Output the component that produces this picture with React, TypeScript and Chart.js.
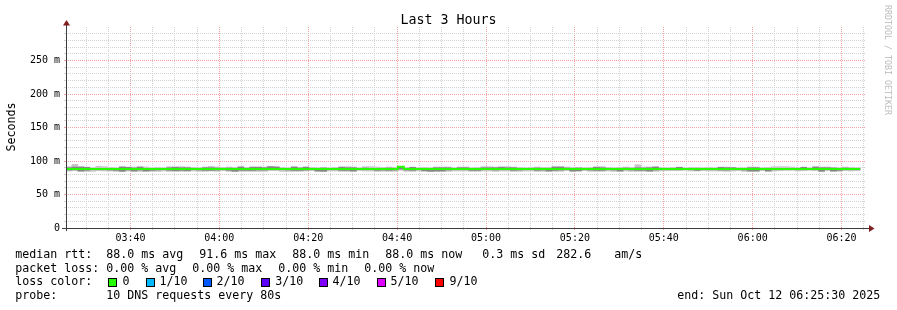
import React, { useEffect, useRef } from "react";
import { Chart, registerables } from "chart.js";

Chart.register(...registerables);

// ---- time frame (seconds) ----
const startClock = "03:25:30";
const stepSeconds = 80;
const spanSeconds = 3 * 3600;

// ---- tick labels ----
const xTickLabels = ["03:40", "04:00", "04:20", "04:40", "05:00", "05:20", "05:40", "06:00", "06:20"];
const yTickLabels = ["0", "50 m", "100 m", "150 m", "200 m", "250 m"];

// ---- series (ms), one value per 80 s step ----
const medianRtt = [
  88.0, 88.0, 88.0, 88.0, 88.0, 88.0, 88.0, 88.0, 88.0, 88.0,
  88.0, 88.0, 88.0, 88.0, 88.0, 88.0, 88.0, 88.0, 88.0, 88.0,
  88.0, 88.0, 88.0, 88.0, 88.0, 88.0, 88.0, 88.0, 88.0, 88.0,
  88.0, 88.0, 88.0, 88.0, 88.0, 88.0, 88.0, 88.0, 88.0, 88.0,
  88.0, 88.0, 88.0, 88.0, 88.0, 88.0, 88.0, 88.0, 88.0, 88.0,
  88.0, 88.0, 88.0, 88.0, 88.0, 88.0, 91.6, 88.0, 88.0, 88.0,
  88.0, 88.0, 88.0, 88.0, 88.0, 88.0, 88.0, 88.0, 88.0, 88.0,
  88.0, 88.0, 88.0, 88.0, 88.0, 88.0, 88.0, 88.0, 88.0, 88.0,
  88.0, 88.0, 88.0, 88.0, 88.0, 88.0, 88.0, 88.0, 88.0, 88.0,
  88.0, 88.0, 88.0, 88.0, 88.0, 88.0, 88.0, 88.0, 88.0, 88.0,
  88.0, 88.0, 88.0, 88.0, 88.0, 88.0, 88.0, 88.0, 88.0, 88.0,
  88.0, 88.0, 88.0, 88.0, 88.0, 88.0, 88.0, 88.0, 88.0, 88.0,
  88.0, 88.0, 88.0, 88.0, 88.0, 88.0, 88.0, 88.0, 88.0, 88.0,
  88.0, 88.0, 88.0, 88.0,
];

const smokeMax = [
  91.5, 95.0, 91.5, 91.0, 90.0, 92.0, 91.5, 90.5, 90.0, 91.5,
  91.0, 91.0, 92.0, 91.0, 90.0, 90.5, 90.0, 91.5, 91.5, 91.5,
  91.0, 90.5, 90.0, 91.0, 92.0, 91.0, 90.5, 91.0, 90.5, 91.5,
  90.5, 91.5, 91.5, 91.0, 92.0, 91.5, 90.5, 90.0, 91.5, 90.5,
  91.5, 90.5, 90.0, 90.5, 90.0, 90.5, 91.5, 91.5, 91.0, 90.0,
  91.5, 91.5, 91.0, 90.5, 91.0, 90.5, 92.0, 90.5, 91.0, 90.0,
  90.5, 90.0, 91.0, 91.0, 91.0, 90.0, 91.0, 91.0, 90.0, 90.5,
  91.5, 91.5, 91.0, 91.5, 91.5, 91.0, 90.5, 90.0, 90.5, 91.0,
  90.5, 90.5, 91.5, 91.5, 91.0, 90.5, 90.5, 90.0, 90.5, 91.5,
  91.5, 90.5, 90.0, 90.5, 91.0, 90.5, 94.5, 91.0, 91.0, 91.5,
  90.5, 90.0, 90.5, 91.0, 90.0, 90.5, 90.5, 90.0, 90.5, 90.0,
  91.0, 91.0, 90.5, 90.0, 90.0, 91.0, 91.0, 90.0, 90.5, 91.5,
  91.5, 91.5, 91.0, 90.0, 91.0, 90.0, 91.5, 91.0, 91.0, 90.5,
  90.0, 91.0, 90.5, 90.0,
];

const smokeUpper = [
  90.0, 91.0, 91.0, 90.5, 89.0, 89.0, 89.0, 89.0, 89.0, 91.0,
  90.5, 89.5, 90.5, 89.0, 89.0, 89.0, 89.0, 90.0, 90.5, 90.0,
  90.0, 89.0, 89.0, 90.0, 90.0, 89.5, 89.0, 89.5, 89.0, 91.0,
  89.0, 90.5, 90.5, 90.0, 91.5, 91.0, 89.0, 89.0, 91.0, 89.5,
  90.5, 89.0, 89.0, 89.5, 89.0, 89.0, 90.5, 90.0, 90.0, 89.0,
  89.5, 89.0, 89.0, 89.0, 89.5, 89.0, 91.6, 89.0, 90.5, 89.0,
  89.0, 89.0, 90.0, 90.0, 90.0, 89.0, 90.0, 90.0, 89.0, 89.0,
  90.0, 90.0, 90.0, 90.5, 90.0, 90.0, 89.0, 89.0, 89.0, 89.5,
  89.0, 89.0, 91.0, 91.0, 89.5, 89.0, 89.5, 89.0, 89.0, 90.5,
  90.0, 89.0, 89.0, 89.0, 89.5, 89.0, 90.0, 89.5, 90.0, 91.0,
  89.0, 89.0, 89.0, 90.5, 89.0, 89.0, 89.0, 89.0, 89.0, 89.0,
  90.5, 90.0, 90.0, 89.0, 89.0, 90.0, 90.0, 89.0, 89.0, 89.0,
  89.0, 89.0, 89.0, 89.0, 90.5, 89.0, 91.0, 90.0, 90.0, 89.5,
  89.0, 89.5, 89.0, 89.0,
];

const smokeLower = [
  86.5, 87.0, 85.0, 86.0, 87.5, 87.0, 87.0, 86.5, 86.0, 84.8,
  86.5, 85.0, 86.5, 85.0, 86.0, 86.5, 87.0, 86.0, 85.5, 86.0,
  85.5, 87.0, 86.5, 86.0, 86.0, 86.5, 87.0, 86.0, 84.8, 86.0,
  86.0, 86.0, 86.5, 86.5, 87.5, 87.5, 87.0, 86.5, 86.0, 86.0,
  86.5, 87.0, 85.0, 84.8, 87.5, 87.0, 86.0, 86.0, 85.0, 87.5,
  87.0, 87.0, 86.0, 86.5, 86.0, 86.5, 88.0, 86.5, 86.0, 87.5,
  85.5, 84.8, 85.0, 85.0, 86.5, 87.5, 87.5, 87.0, 86.0, 86.0,
  87.0, 87.0, 86.5, 87.0, 87.0, 86.0, 86.5, 87.0, 87.5, 86.0,
  86.5, 85.0, 86.0, 86.5, 87.5, 85.0, 85.5, 87.5, 86.5, 86.0,
  86.0, 87.0, 86.5, 85.0, 87.0, 86.5, 86.0, 86.0, 85.0, 86.5,
  87.0, 87.5, 87.5, 87.0, 87.5, 87.0, 86.0, 87.5, 87.0, 87.0,
  86.5, 86.5, 87.0, 87.5, 86.5, 85.0, 85.0, 87.5, 85.0, 87.0,
  87.5, 87.5, 87.5, 87.0, 87.5, 87.5, 87.0, 84.8, 87.0, 85.0,
  86.0, 87.5, 87.0, 87.0,
];

const smokeMin = [
  85.0, 85.5, 84.5, 84.5, 84.5, 85.5, 85.0, 85.0, 84.5, 84.0,
  85.0, 84.5, 84.5, 84.5, 84.5, 84.5, 85.0, 84.5, 84.5, 84.5,
  84.5, 85.0, 84.5, 84.5, 85.0, 84.5, 85.5, 84.5, 84.0, 84.5,
  84.5, 84.5, 84.5, 84.5, 85.5, 85.5, 84.5, 84.5, 84.5, 84.5,
  85.0, 85.5, 84.5, 84.0, 85.0, 85.0, 84.5, 84.5, 84.5, 85.5,
  85.0, 85.0, 84.5, 84.5, 84.5, 84.5, 86.0, 84.5, 84.5, 85.0,
  84.5, 84.0, 84.5, 84.5, 84.5, 85.0, 85.0, 85.0, 84.5, 84.5,
  85.0, 85.0, 84.5, 85.0, 85.0, 84.5, 84.5, 85.0, 85.0, 84.5,
  84.5, 84.5, 84.5, 84.5, 85.5, 84.5, 84.5, 85.5, 84.5, 84.5,
  84.5, 85.0, 84.5, 84.5, 85.0, 84.5, 84.5, 84.5, 84.5, 84.5,
  85.0, 85.5, 85.5, 85.5, 86.0, 85.0, 85.0, 85.5, 85.0, 85.0,
  85.0, 84.5, 85.0, 85.5, 84.5, 84.5, 84.5, 85.5, 84.5, 85.0,
  85.5, 86.0, 86.0, 85.0, 85.5, 86.0, 85.5, 84.0, 85.5, 84.5,
  84.5, 85.5, 85.0, 85.5,
];

// ---- legend texts ----
const titleText = "Last 3 Hours";
const yAxisTitle = "Seconds";
const watermark = "RRDTOOL / TOBI OETIKER";
const rttLabel = "median rtt:";
const rttStats = ["88.0 ms avg", "91.6 ms max", "88.0 ms min", "88.0 ms now", "0.3 ms sd", "282.6", "am/s"];
const lossLabel = "packet loss:";
const lossStats = ["0.00 % avg", "0.00 % max", "0.00 % min", "0.00 % now"];
const lossColorLabel = "loss color:";
const lossColorNames = ["0", "1/10", "2/10", "3/10", "4/10", "5/10", "9/10"];
const lossColors = ["#26ff00", "#00b8ff", "#0059ff", "#5e00ff", "#7e00ff", "#dd00ff", "#ff0000"];
const probeLabel = "probe:";
const probeText = "10 DNS requests every 80s";
const endText = "end: Sun Oct 12 06:25:30 2025";

// ---- layout (pixels) ----
const W = 897;
const H = 310;
const MONO = "'DejaVu Sans Mono', monospace";
const rttX = [106.2, 199.2, 292.2, 385.2, 482.2, 556.2, 614.2];
const lossX = [106.2, 192.2, 278.2, 364.2];
const boxX = [108, 146, 203, 261, 319, 377, 435];
const boxLabelX = [122.4, 159.4, 216.4, 275.2, 332.4, 390.4, 449.4];

const startSec = (() => {
  const [h, m, s] = startClock.split(":").map(Number);
  return h * 3600 + m * 60 + s;
})();

function clockOf(rel: number) {
  const abs = Math.round(startSec + rel);
  const h = Math.floor(abs / 3600) % 24;
  const m = Math.floor((abs % 3600) / 60);
  return String(h).padStart(2, "0") + ":" + String(m).padStart(2, "0");
}

const MINOR = "#d2d2d2";
const MAJOR = "#f2a2a2";

const axisPlugin = {
  id: "rrdAxes",
  afterDatasetsDraw(chart: any) {
    const { ctx, chartArea } = chart;
    const { left, right, top, bottom } = chartArea;
    ctx.save();
    ctx.strokeStyle = "#3c3c3c";
    ctx.lineWidth = 1;
    ctx.beginPath();
    ctx.moveTo(left + 0.5, bottom + 3);
    ctx.lineTo(left + 0.5, top - 2);
    ctx.moveTo(left - 4, bottom + 0.5);
    ctx.lineTo(right + 3, bottom + 0.5);
    ctx.stroke();
    ctx.fillStyle = "rgb(128,31,31)";
    ctx.beginPath();
    ctx.moveTo(left + 0.5 - 3.5, top - 1.5);
    ctx.lineTo(left + 0.5 + 3.5, top - 1.5);
    ctx.lineTo(left + 0.5, top - 7);
    ctx.closePath();
    ctx.fill();
    ctx.beginPath();
    ctx.moveTo(right + 3, bottom + 0.5 - 3.5);
    ctx.lineTo(right + 3, bottom + 0.5 + 3.5);
    ctx.lineTo(right + 8.5, bottom + 0.5);
    ctx.closePath();
    ctx.fill();
    ctx.restore();
  },
};

function App() {
  const ref = useRef<HTMLCanvasElement>(null);

  useEffect(() => {
    document.body.style.margin = "0";
    const canvas = ref.current;
    if (!canvas) return;

    const xs = medianRtt.map((_, i) => i * stepSeconds + stepSeconds / 2);
    const outer = xs.map((x, i) => ({ x, y: [smokeMin[i], smokeMax[i]] }));
    const inner = xs.map((x, i) => ({ x, y: [smokeLower[i], smokeUpper[i]] }));
    const med = [
      { x: 0, y: medianRtt[0] },
      ...xs.map((x, i) => ({ x, y: medianRtt[i] })),
      { x: medianRtt.length * stepSeconds, y: medianRtt[medianRtt.length - 1] },
    ];

    const firstTick = Math.ceil(startSec / 300) * 300 - startSec;
    const xTicks: number[] = [];
    for (let s = firstTick; s <= spanSeconds; s += 300) xTicks.push(s);
    const yTicks: number[] = [];
    for (let v = 0; v <= 300; v += 10) yTicks.push(v);

    const isMajorX = (v: number) => Math.round((startSec + v) / 60) % 20 === 0;

    const font = { family: "DejaVu Sans Mono", size: 10 };

    const chart = new Chart(canvas, {
      type: "bar",
      data: {
        datasets: [
          {
            type: "line",
            data: med,
            borderColor: "#26ff00",
            borderWidth: 2,
            pointRadius: 0,
            stepped: "middle",
            order: 0,
          } as any,
          {
            type: "bar",
            data: inner as any,
            backgroundColor: "#858585",
            borderWidth: 0,
            grouped: false,
            barPercentage: 1,
            categoryPercentage: 1,
            order: 1,
          } as any,
          {
            type: "bar",
            data: outer as any,
            backgroundColor: "#c6c6c6",
            borderWidth: 0,
            grouped: false,
            barPercentage: 1,
            categoryPercentage: 1,
            order: 2,
          } as any,
        ],
      },
      options: {
        responsive: false,
        animation: false,
        devicePixelRatio: 1,
        layout: { padding: { left: 0, top: 27, right: 31, bottom: 0 } },
        plugins: {
          legend: { display: false },
          tooltip: { enabled: false },
          title: { display: false },
        },
        scales: {
          x: {
            type: "linear",
            min: 0,
            max: spanSeconds,
            offset: false,
            afterFit: (s: any) => {
              s.height = H - 228;
            },
            afterBuildTicks: (s: any) => {
              s.ticks = xTicks.map((v) => ({ value: v }));
            },
            ticks: {
              autoSkip: false,
              maxRotation: 0,
              minRotation: 0,
              padding: 2,
              color: "#000",
              font,
              callback: (v: any) => {
                const lbl = clockOf(Number(v));
                return xTickLabels.includes(lbl) && isMajorX(Number(v)) ? lbl : "";
              },
            },
            grid: {
              offset: false,
              color: (c: any) => (c.tick && isMajorX(c.tick.value) ? MAJOR : MINOR),
              lineWidth: 1,
              tickLength: 2,
              tickBorderDash: [],
            },
            border: { display: false, dash: [1, 1] },
          } as any,
          y: {
            type: "linear",
            min: 0,
            max: 300,
            afterFit: (s: any) => {
              s.width = 66;
            },
            afterBuildTicks: (s: any) => {
              s.ticks = yTicks.map((v) => ({ value: v }));
            },
            ticks: {
              autoSkip: false,
              padding: 4,
              color: "#000",
              font,
              callback: (v: any) => {
                const n = Number(v);
                return n % 50 === 0 && n / 50 < yTickLabels.length ? yTickLabels[n / 50] : "";
              },
            },
            grid: {
              color: (c: any) => {
                const v = c.tick ? c.tick.value : -1;
                if (v <= 0 || v >= 300) return "rgba(0,0,0,0)";
                return v % 50 === 0 ? MAJOR : MINOR;
              },
              lineWidth: 1,
              tickLength: 2,
              tickBorderDash: [],
            },
            border: { display: false, dash: [1, 1] },
          } as any,
        },
      },
      plugins: [axisPlugin],
    });

    return () => chart.destroy();
  }, []);

  const abs = (left: number, top: number, extra: React.CSSProperties = {}): React.CSSProperties => ({
    position: "absolute",
    left,
    top,
    whiteSpace: "pre",
    fontFamily: MONO,
    fontSize: "11.63px",
    lineHeight: "14px",
    color: "#000",
    ...extra,
  });

  const L1 = 247;
  const L2 = 261;
  const L3 = 274;
  const L4 = 288;

  return (
    <div style={{ position: "relative", width: W, height: H, background: "#fff", overflow: "hidden" }}>
      <canvas ref={ref} width={W} height={H} style={{ position: "absolute", left: 0, top: 0, width: W, height: H }} />
      <div
        style={{
          position: "absolute",
          left: 0,
          top: 12,
          width: W,
          textAlign: "center",
          fontFamily: MONO,
          fontSize: "13.3px",
          lineHeight: "16px",
          color: "#000",
        }}
      >
        {titleText}
      </div>
      <div
        style={{
          position: "absolute",
          left: 11 - 30,
          top: 127 - 7,
          width: 60,
          height: 14,
          textAlign: "center",
          fontFamily: MONO,
          fontSize: "11.63px",
          lineHeight: "14px",
          color: "#000",
          transform: "rotate(-90deg)",
          transformOrigin: "50% 50%",
        }}
      >
        {yAxisTitle}
      </div>
      <div
        style={{
          position: "absolute",
          left: 888 - 60,
          top: 60 - 5,
          width: 120,
          height: 10,
          textAlign: "center",
          fontFamily: MONO,
          fontSize: "8.3px",
          lineHeight: "10px",
          color: "#bcbcbc",
          whiteSpace: "pre",
          transform: "rotate(90deg)",
          transformOrigin: "50% 50%",
        }}
      >
        {watermark}
      </div>

      <span style={abs(15.2, L1)}>{rttLabel}</span>
      {rttStats.map((t, i) => (
        <span key={"r" + i} style={abs(rttX[i], L1)}>{t}</span>
      ))}

      <span style={abs(15.2, L2)}>{lossLabel}</span>
      {lossStats.map((t, i) => (
        <span key={"l" + i} style={abs(lossX[i], L2)}>{t}</span>
      ))}

      <span style={abs(15.2, L3)}>{lossColorLabel}</span>
      {lossColorNames.map((t, i) => (
        <React.Fragment key={"c" + i}>
          <div
            style={{
              position: "absolute",
              left: boxX[i],
              top: L3 + 4,
              width: 9,
              height: 9,
              boxSizing: "border-box",
              border: "1px solid #000",
              background: lossColors[i],
            }}
          />
          <span style={abs(boxLabelX[i], L3)}>{t}</span>
        </React.Fragment>
      ))}

      <span style={abs(15.2, L4)}>{probeLabel}</span>
      <span style={abs(106.2, L4)}>{probeText}</span>
      <span style={abs(677.2, L4)}>{endText}</span>
    </div>
  );
}

export default App;
